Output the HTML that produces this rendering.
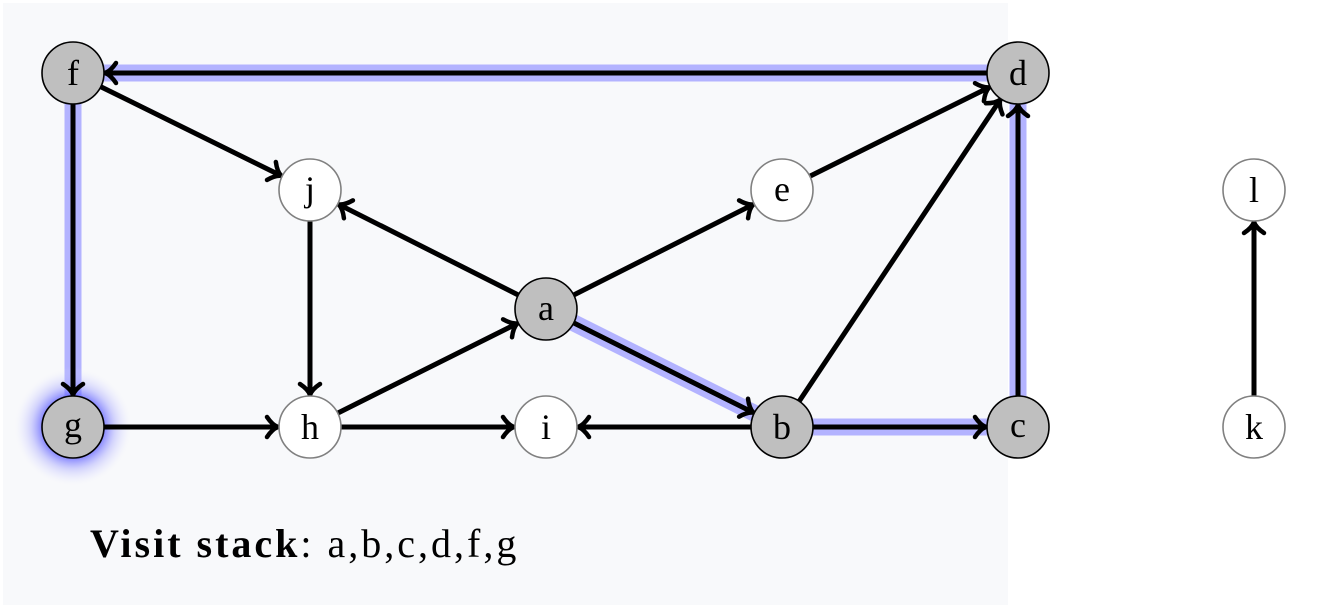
<!DOCTYPE html>
<html><head><meta charset="utf-8"><style>
html,body{margin:0;padding:0;background:#fff;}
svg{display:block;}
text{font-family:"Liberation Serif",serif;}
</style></head><body>
<svg width="1330" height="609" viewBox="0 0 1330 609" xmlns="http://www.w3.org/2000/svg">
<defs>
<marker id="ar" markerUnits="userSpaceOnUse" markerWidth="30" markerHeight="30" viewBox="-15 -15 30 30" refX="0" refY="0" orient="auto" overflow="visible">
<path d="M-10,-10 C-6,-4 -2,-1 1,0 C-2,1 -6,4 -10,10" fill="none" stroke="#000" stroke-width="4.5" stroke-linecap="round"/>
</marker>
<radialGradient id="glow">
<stop offset="0.5" stop-color="#5555ff" stop-opacity="0.75"/>
<stop offset="0.7" stop-color="#9999ff" stop-opacity="0.4"/>
<stop offset="0.88" stop-color="#ccccff" stop-opacity="0.15"/>
<stop offset="1" stop-color="#ffffff" stop-opacity="0"/>
</radialGradient>
</defs>
<rect x="3" y="3" width="1005" height="602" fill="#f8f9fb"/>
<g stroke="#b3b3ff" stroke-width="17" fill="none" stroke-linecap="butt">
<polyline points="1018,73 73,73 73,400"/>
<polyline points="546,309 782,427 1018,427 1018,73"/>
</g>
<circle cx="73" cy="427" r="60" fill="url(#glow)"/>
<g stroke="#000" stroke-width="5" fill="none" marker-end="url(#ar)">
<line x1="987" y1="73" x2="106" y2="73"/>
<line x1="73" y1="104" x2="73" y2="394"/>
<line x1="100.8" y1="86.7" x2="280.4" y2="175.4"/>
<line x1="518.3" y1="295" x2="339.5" y2="204.8"/>
<line x1="573.7" y1="295" x2="752.5" y2="204.8"/>
<line x1="809.8" y1="176.2" x2="988.4" y2="87.7"/>
<line x1="799.2" y1="401.2" x2="999.7" y2="100.5"/>
<line x1="337.7" y1="413.1" x2="516.5" y2="323.8"/>
<line x1="573.7" y1="322.9" x2="752.5" y2="412.2"/>
<line x1="310" y1="221" x2="310" y2="394"/>
<line x1="1018" y1="396" x2="1018" y2="106"/>
<line x1="813" y1="427" x2="985" y2="427"/>
<line x1="751" y1="427" x2="579" y2="427"/>
<line x1="341" y1="427" x2="513" y2="427"/>
<line x1="104" y1="427" x2="277" y2="427"/>
<line x1="1254" y1="396" x2="1254" y2="223"/>
</g>
<g stroke-width="1.6">
<circle cx="73" cy="73" r="31" fill="#bfbfbf" stroke="#000"/>
<circle cx="1018" cy="73" r="31" fill="#bfbfbf" stroke="#000"/>
<circle cx="310" cy="190" r="31" fill="#fff" stroke="#808080"/>
<circle cx="782" cy="190" r="31" fill="#fff" stroke="#808080"/>
<circle cx="1254" cy="190" r="31" fill="#fff" stroke="#808080"/>
<circle cx="546" cy="309" r="31" fill="#bfbfbf" stroke="#000"/>
<circle cx="73" cy="427" r="31" fill="#bfbfbf" stroke="#000"/>
<circle cx="310" cy="427" r="31" fill="#fff" stroke="#808080"/>
<circle cx="546" cy="427" r="31" fill="#fff" stroke="#808080"/>
<circle cx="782" cy="427" r="31" fill="#bfbfbf" stroke="#000"/>
<circle cx="1018" cy="427" r="31" fill="#bfbfbf" stroke="#000"/>
<circle cx="1254" cy="427" r="31" fill="#fff" stroke="#808080"/>
</g>
<g font-size="36" text-anchor="middle" fill="#000">
<text x="73" y="85">f</text>
<text x="1018" y="85">d</text>
<text x="310" y="201">j</text>
<text x="782" y="201">e</text>
<text x="1254" y="202">l</text>
<text x="546" y="320">a</text>
<text x="73" y="437">g</text>
<text x="310" y="439">h</text>
<text x="546" y="439">i</text>
<text x="782" y="439">b</text>
<text x="1018" y="437">c</text>
<text x="1254" y="439">k</text>
</g>
<text x="90" y="557" font-size="40" letter-spacing="3"><tspan font-weight="bold">Visit stack</tspan>: a,b,c,d,f,g</text>
</svg>
</body></html>
